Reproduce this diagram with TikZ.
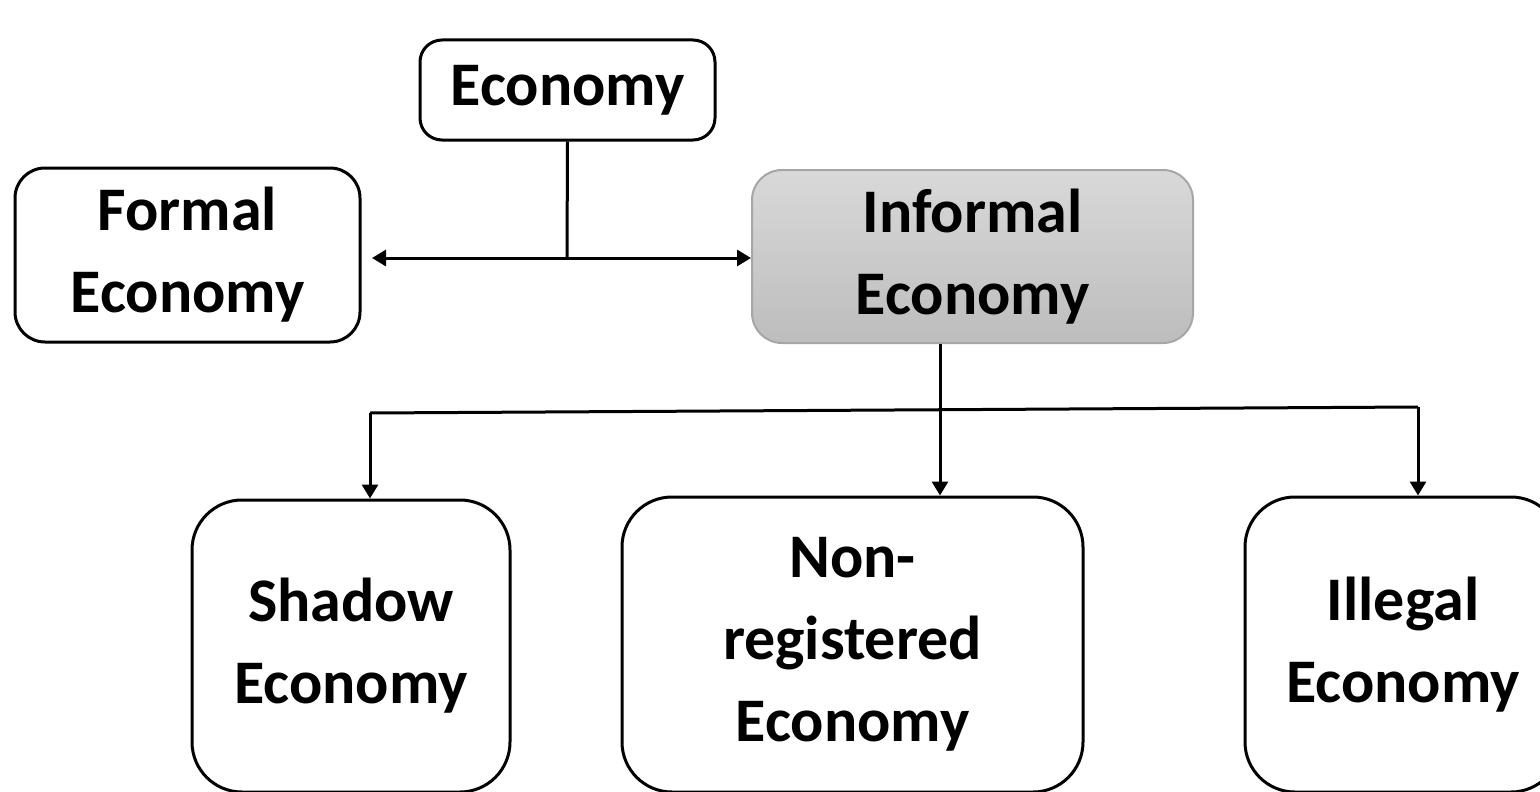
\documentclass[tikz,border=0pt]{standalone}
\usepackage{fontspec}
\setmainfont{Carlito}
\usetikzlibrary{arrows.meta,positioning}
\begin{document}
\begin{tikzpicture}[x=1pt,y=-1pt,
  box/.style={draw=black,line width=3pt,rounded corners=#1,align=center,inner sep=0pt,
    font=\fontsize{62}{82}\selectfont\bfseries},
  link/.style={line width=3pt},
  arr/.style={line width=3pt,-{Triangle[length=14pt,width=16pt]}}]

\clip (0,0) rectangle (1540,792);

\node[box=22pt,minimum width=295pt,minimum height=100pt] (econ) at (567.5,90) {Economy};
\node[box=30pt,minimum width=345pt,minimum height=174pt] (formal) at (187.5,255) {Formal\\Economy};
\node[box=30pt,draw=black!35,line width=2pt,top color=black!15,bottom color=black!26,
  minimum width=441pt,minimum height=173pt] (informal) at (972.5,256.5) {Informal\\Economy};

\node[box=50pt,minimum width=318pt,minimum height=292pt] (shadow) at (351,646) {Shadow\\Economy};
\node[box=50pt,minimum width=461pt,minimum height=295pt] (nonreg) at (852.5,644.5) {Non-\\registered\\Economy};
\node[box=50pt,minimum width=316pt,minimum height=295pt] (illegal) at (1403,644.5) {Illegal\\Economy};

\coordinate (split) at (567,258);
\coordinate (busL) at (370,413);
\coordinate (busM) at (940,410);
\coordinate (busR) at (1418,407);

\draw[link] (econ.south) -- (split);
\draw[arr] (split) -- (372,258);
\draw[arr] (split) -- (informal.west |- split);

\draw[link] (informal.south -| busM) -- (busM);
\draw[link] (busL) -- (busR);
\draw[arr] (busL) -- (shadow.north -| busL);
\draw[arr] (busM) -- (nonreg.north -| busM);
\draw[arr] (busR) -- (illegal.north -| busR);
\end{tikzpicture}
\end{document}
